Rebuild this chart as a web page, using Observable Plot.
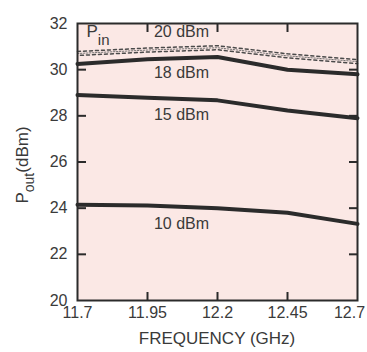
<!DOCTYPE html>
<html>
<head>
<meta charset="utf-8">
<script src="https://cdn.jsdelivr.net/npm/d3@7"></script>
<script src="https://cdn.jsdelivr.net/npm/@observablehq/plot@0.6"></script>
<style>
  html, body { margin: 0; padding: 0; background: #fff; }
  svg { display: block; }
</style>
</head>
<body>
<div id="chart"></div>
<script>
const freq = [11.7, 11.95, 12.2, 12.45, 12.7];
const p20 = [30.7, 30.85, 30.95, 30.6, 30.35];
const p18 = [30.25, 30.45, 30.55, 30.0, 29.8];
const p15 = [28.9, 28.78, 28.67, 28.23, 27.9];
const p10 = [24.15, 24.12, 24.0, 23.8, 23.32];
const seriesLabels = ["20 dBm", "18 dBm", "15 dBm", "10 dBm"];
const xTicks = [11.7, 11.95, 12.2, 12.45, 12.7];
const yTicks = [20, 22, 24, 26, 28, 30, 32];

const allSeries = [p20, p18, p15, p10];
const rows = [];
allSeries.forEach((vals, si) => {
  vals.forEach((v, i) => rows.push({series: seriesLabels[si], freq: freq[i], p: v}));
});
const rowsOf = s => rows.filter(r => r.series === s);
const labelRow = s => rows.filter(r => r.series === s && r.freq === freq[1]);
const labelDy = {"20 dBm": -18, "18 dBm": 14, "15 dBm": 17, "10 dBm": 18};

const ink = "#2b2b2b";
const textCol = "#3a3a3a";
const font = "Liberation Sans, Arial, Helvetica, sans-serif";
const innerX = xTicks.slice(1, -1);
const innerY = yTicks.slice(1, -1);

const chart = Plot.plot({
  width: 367,
  height: 352,
  marginLeft: 77,
  marginRight: 10,
  marginTop: 23,
  marginBottom: 52,
  style: {fontFamily: font, fontSize: "16px", color: textCol, background: "#fff"},
  x: {domain: [11.7, 12.7]},
  y: {domain: [20, 32]},
  marks: [
    Plot.frame({fill: "#fbe8e5", stroke: null}),
    Plot.axisX({ticks: xTicks.slice(0, -1), tickSize: 0, tickPadding: 6, label: null, fontSize: 16, fill: textCol, tickFormat: d => String(d)}),
    Plot.axisX({ticks: xTicks.slice(-1), tickSize: 0, tickPadding: 6, dx: -8, label: null, fontSize: 16, fill: textCol, tickFormat: d => String(d)}),
    Plot.axisX({anchor: "bottom", ticks: innerX, tickSize: -8, text: null, label: null, stroke: ink, strokeWidth: 2}),
    Plot.axisX({anchor: "top", ticks: innerX, tickSize: -8, text: null, label: null, stroke: ink, strokeWidth: 2}),
    Plot.axisY({ticks: yTicks, tickSize: 0, tickPadding: 10, label: null, fontSize: 16, fill: textCol}),
    Plot.axisY({anchor: "left", ticks: innerY, tickSize: -9, text: null, label: null, stroke: ink, strokeWidth: 2}),
    Plot.axisY({anchor: "right", ticks: innerY, tickSize: -9, text: null, label: null, stroke: ink, strokeWidth: 2}),
    // 20 dBm crossed line
    Plot.line(rowsOf("20 dBm"), {x: "freq", y: "p", stroke: "#4a4a4a", strokeWidth: 1.5, strokeDasharray: "3,3", dy: -2}),
    Plot.line(rowsOf("20 dBm"), {x: "freq", y: "p", stroke: "#4a4a4a", strokeWidth: 1.5, strokeDasharray: "3,3", strokeDashoffset: 3, dy: 2}),
    Plot.line(rowsOf("20 dBm"), {x: "freq", y: "p", stroke: "#666", strokeWidth: 0.9, strokeDasharray: "1.5,1.5"}),
    Plot.line(rowsOf("18 dBm"), {x: "freq", y: "p", stroke: ink, strokeWidth: 4}),
    Plot.line(rowsOf("15 dBm"), {x: "freq", y: "p", stroke: ink, strokeWidth: 4}),
    Plot.line(rowsOf("10 dBm"), {x: "freq", y: "p", stroke: ink, strokeWidth: 4}),
    ...seriesLabels.map(s => Plot.text(labelRow(s), {x: "freq", y: "p", text: "series", dx: 34, dy: labelDy[s], fontSize: 16, fill: textCol})),
    Plot.frame({stroke: ink, strokeWidth: 2})
  ]
});

document.getElementById("chart").appendChild(chart);
const svg = d3.select(chart);

// P_in annotation
const pin = svg.append("text")
  .attr("x", 98).attr("y", 37)
  .attr("font-family", font).attr("font-size", 17).attr("fill", textCol);
pin.append("tspan").text("P");
pin.append("tspan").attr("dy", 8).attr("font-size", 15).text("in");

// Y axis title
const yl = svg.append("text")
  .attr("transform", "translate(28,165) rotate(-90)")
  .attr("text-anchor", "middle")
  .attr("font-family", font).attr("font-size", 17).attr("fill", textCol);
yl.append("tspan").text("P");
yl.append("tspan").attr("dy", 6).attr("font-size", 14).text("out");
yl.append("tspan").attr("dy", -6).text("(dBm)");

// X axis title
svg.append("text")
  .attr("x", 217).attr("y", 344)
  .attr("text-anchor", "middle")
  .attr("font-family", font).attr("font-size", 17).attr("fill", textCol)
  .text("FREQUENCY (GHz)");
</script>
</body>
</html>
